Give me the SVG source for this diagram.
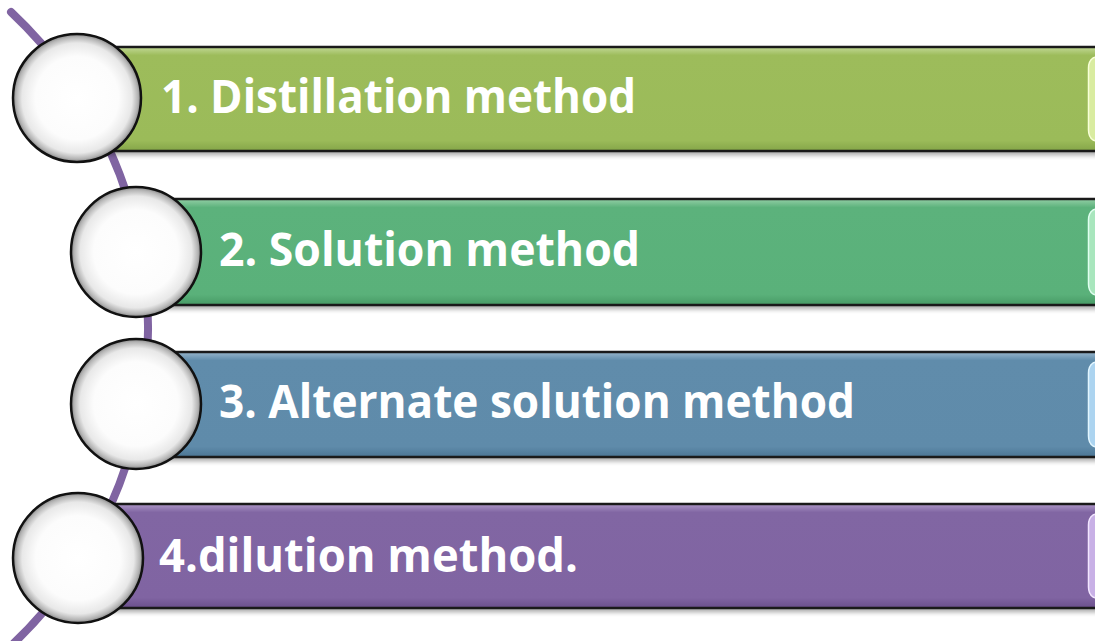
<svg xmlns="http://www.w3.org/2000/svg" width="1095" height="641" viewBox="0 0 1095 641">
<defs>
<style>
.bar{stroke:#1a1a1a;stroke-width:2.5}
.shadow{fill:#000;opacity:0.35;filter:url(#blur)}
.circ{fill:url(#cg);stroke:#111;stroke-width:2.5}
.lbl{font-family:"Open Sans","Noto Sans",sans-serif;font-weight:bold;font-size:46px;fill:#fff}
.hl{stroke-width:1.5}
.conn{fill:none;stroke:#8064A2;stroke-width:8;stroke-linecap:round}
</style>
<filter id="blur" x="-5%" y="-30%" width="110%" height="160%"><feGaussianBlur stdDeviation="2.5"/></filter>
<radialGradient id="cg" cx="0.5" cy="0.5" r="0.5">
<stop offset="0" stop-color="#ffffff"/>
<stop offset="0.65" stop-color="#fcfcfc"/>
<stop offset="0.86" stop-color="#e8e8e8"/>
<stop offset="0.95" stop-color="#b5b5b5"/>
<stop offset="1" stop-color="#858585"/>
</radialGradient>
<linearGradient id="g1" x1="0" y1="0" x2="0" y2="1">
<stop offset="0" stop-color="#c2d996"/><stop offset="0.08" stop-color="#9dbc5b"/><stop offset="0.9" stop-color="#9bbb59"/><stop offset="1" stop-color="#84a548"/>
</linearGradient>
<linearGradient id="g2" x1="0" y1="0" x2="0" y2="1">
<stop offset="0" stop-color="#93cfa6"/><stop offset="0.08" stop-color="#5cb27c"/><stop offset="0.9" stop-color="#5ab17a"/><stop offset="1" stop-color="#479a65"/>
</linearGradient>
<linearGradient id="g3" x1="0" y1="0" x2="0" y2="1">
<stop offset="0" stop-color="#98b6cc"/><stop offset="0.08" stop-color="#608cab"/><stop offset="0.9" stop-color="#5f8baa"/><stop offset="1" stop-color="#4b7594"/>
</linearGradient>
<linearGradient id="g4" x1="0" y1="0" x2="0" y2="1">
<stop offset="0" stop-color="#ae98c8"/><stop offset="0.08" stop-color="#8166a3"/><stop offset="0.9" stop-color="#8064a2"/><stop offset="1" stop-color="#6a4f8b"/>
</linearGradient>
</defs>
<rect width="1095" height="641" fill="#ffffff"/>
<g id="connectors">
<path class="conn" d="M 11 12 A 435 435 0 0 1 14 643"/>
</g>
<g id="node1">
<rect class="shadow" x="100" y="51" width="1010" height="104"/>
<rect class="bar" x="100" y="47" width="1010" height="104" fill="url(#g1)"/>
<path class="hl" fill="#d9eca0" stroke="#f8ffd8" d="M 1096 57 L 1093 58 Q 1088.5 61 1088.5 68 L 1088.5 130 Q 1088.5 137 1093 140 L 1096 141 Z"/>
<circle class="circ" cx="77" cy="98" r="64"/>
<text class="lbl" x="161" y="113" textLength="475" lengthAdjust="spacingAndGlyphs">1. Distillation method</text>
</g>
<g id="node2">
<rect class="shadow" x="160" y="203" width="950" height="106"/>
<rect class="bar" x="160" y="199" width="950" height="106" fill="url(#g2)"/>
<path class="hl" fill="#a8e6bd" stroke="#e0fff0" d="M 1096 209 L 1093 210 Q 1088.5 213 1088.5 220 L 1088.5 284 Q 1088.5 291 1093 294 L 1096 295 Z"/>
<circle class="circ" cx="136" cy="252" r="65"/>
<text class="lbl" x="219" y="266" textLength="421" lengthAdjust="spacingAndGlyphs">2. Solution method</text>
</g>
<g id="node3">
<rect class="shadow" x="160" y="356" width="950" height="105"/>
<rect class="bar" x="160" y="352" width="950" height="105" fill="url(#g3)"/>
<path class="hl" fill="#acd4f0" stroke="#e2f6ff" d="M 1096 362 L 1093 363 Q 1088.5 366 1088.5 373 L 1088.5 436 Q 1088.5 443 1093 446 L 1096 447 Z"/>
<circle class="circ" cx="136" cy="404" r="65"/>
<text class="lbl" x="219" y="418" textLength="636" lengthAdjust="spacingAndGlyphs">3. Alternate solution method</text>
</g>
<g id="node4">
<rect class="shadow" x="100" y="508" width="1010" height="104"/>
<rect class="bar" x="100" y="504" width="1010" height="104" fill="url(#g4)"/>
<path class="hl" fill="#c8b0e6" stroke="#f2e6ff" d="M 1096 514 L 1093 515 Q 1088.5 518 1088.5 525 L 1088.5 587 Q 1088.5 594 1093 597 L 1096 598 Z"/>
<circle class="circ" cx="78" cy="558" r="65"/>
<text class="lbl" x="159" y="572" textLength="419" lengthAdjust="spacingAndGlyphs">4.dilution method.</text>
</g>
</svg>
